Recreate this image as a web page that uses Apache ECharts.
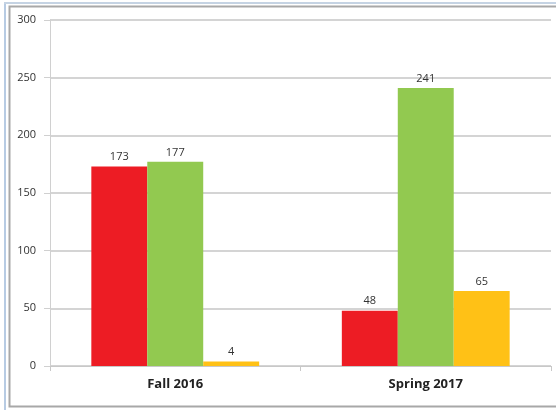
<!DOCTYPE html>
<html>
<head>
<meta charset="utf-8">
<script src="https://cdn.jsdelivr.net/npm/echarts@6/dist/echarts.min.js"></script>
<style>
  html, body { margin: 0; padding: 0; background: #fff; }
  #chart { width: 556px; height: 410px; }
</style>
</head>
<body>
<div id="chart"></div>
<script>
const categories = ['Fall 2016', 'Spring 2017'];
const redValues = [173, 48];
const greenValues = [177, 241];
const yellowValues = [4, 65];
const seriesColors = ['#ed1c24', '#92c950', '#ffc116'];

const chart = echarts.init(document.getElementById('chart'));

const label = {
  show: true,
  position: 'top',
  color: '#333',
  fontSize: 11,
  fontFamily: 'Open Sans',
  distance: 4
};

chart.setOption({
  animation: false,
  graphic: [
    { type: 'line', shape: { x1: 5, y1: 3, x2: 5, y2: 410 }, style: { stroke: '#b7cbe3', lineWidth: 2 } },
    { type: 'line', shape: { x1: 4, y1: 3, x2: 556, y2: 3 }, style: { stroke: '#c5d3e3', lineWidth: 2 } },
    { type: 'rect', shape: { x: 9.5, y: 6.5, width: 560, height: 400 }, style: { fill: 'none', stroke: '#a8a8a8', lineWidth: 2 } }
  ],
  grid: { left: 50, right: 5, top: 20, bottom: 44 },
  xAxis: {
    type: 'category',
    data: categories,
    axisLine: { lineStyle: { color: '#c8c8c8', width: 1 } },
    axisTick: { show: true, lineStyle: { color: '#c8c8c8' } },
    axisLabel: { color: '#222', fontSize: 13, fontWeight: 'bold', fontFamily: 'Open Sans', margin: 12 }
  },
  yAxis: {
    type: 'value',
    min: 0,
    max: 300,
    interval: 50,
    axisLine: { show: true, lineStyle: { color: '#d0d0d0' } },
    axisTick: { show: true, length: 6, inside: false, lineStyle: { color: '#d0d0d0' } },
    axisLabel: { color: '#333', fontSize: 11, fontFamily: 'Open Sans', margin: 14 },
    splitLine: { lineStyle: { color: '#d4d4d4', width: 2 } }
  },
  series: [
    { type: 'bar', data: redValues, itemStyle: { color: seriesColors[0] }, barGap: '0%', barCategoryGap: '33%', label },
    { type: 'bar', data: greenValues, itemStyle: { color: seriesColors[1] }, label },
    { type: 'bar', data: yellowValues, itemStyle: { color: seriesColors[2] }, label }
  ]
});
</script>
</body>
</html>
